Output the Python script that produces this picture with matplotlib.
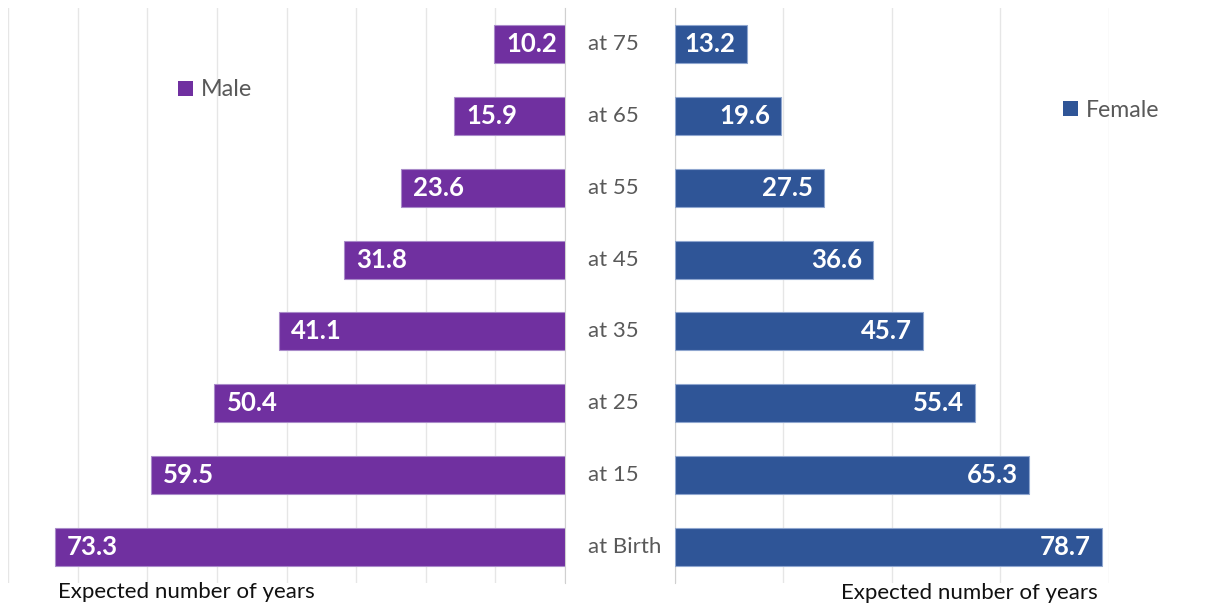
import matplotlib
matplotlib.use("Agg")
import matplotlib.pyplot as plt
from matplotlib.patches import Patch
from matplotlib.transforms import blended_transform_factory

plt.rcParams['font.family'] = ['Lato', 'DejaVu Sans']

categories = ["at Birth", "at 15", "at 25", "at 35", "at 45", "at 55", "at 65", "at 75"]
male = [73.3, 59.5, 50.4, 41.1, 31.8, 23.6, 15.9, 10.2]
female = [78.7, 65.3, 55.4, 45.7, 36.6, 27.5, 19.6, 13.2]
male_ticks = [0, 10, 20, 30, 40, 50, 60, 70, 80]
female_ticks = [0, 20, 40, 60, 80]
axis_label = "Expected number of years"

MALE_C = "#7030A0"
FEMALE_C = "#2F5597"
GRID_C = "#E6E6E6"
TEXT_GRAY = "#595959"

W, H = 1209, 605
fig = plt.figure(figsize=(W / 100, H / 100), dpi=100)

ax_top = 8
ax_bot = 583
axL = fig.add_axes([8 / W, 1 - ax_bot / H, (565 - 8) / W, (ax_bot - ax_top) / H])
axR = fig.add_axes([675 / W, 1 - ax_bot / H, (1108.7 - 675) / W, (ax_bot - ax_top) / H])

y = list(range(len(categories)))
bh = 0.53

axL.barh(y, male, height=bh, color=MALE_C, edgecolor="#A98BC9", linewidth=0.8, zorder=3)
axR.barh(y, female, height=bh, color=FEMALE_C, edgecolor="#8FA6CF", linewidth=0.8, zorder=3)

axL.set_xlim(80, 0)
axR.set_xlim(0, 80)
for ax, ticks in ((axL, male_ticks), (axR, female_ticks)):
    ax.set_ylim(-0.5, len(categories) - 0.5)
    ax.set_xticks(ticks)
    ax.set_yticks([])
    ax.tick_params(axis='x', length=0, labelbottom=False)
    ax.grid(axis='x', color=GRID_C, linewidth=1.0, zorder=0)
    for s in ax.spines.values():
        s.set_visible(False)
    ax.set_facecolor("none")

axL.spines['right'].set_visible(True)
axL.spines['right'].set_color("#D0D0D0")
axR.spines['left'].set_visible(True)
axR.spines['left'].set_color("#D0D0D0")

# value labels
for yi, v in zip(y, male):
    axL.annotate(f"{v:.1f}", xy=(v, yi), xytext=(9, 0), textcoords="offset points",
                 ha="left", va="center", color="white", fontsize=18.5, fontweight="bold", zorder=4)
for yi, v in zip(y, female):
    axR.annotate(f"{v:.1f}", xy=(v, yi), xytext=(-8, 0), textcoords="offset points",
                 ha="right", va="center", color="white", fontsize=18.5, fontweight="bold", zorder=4)

# category labels
tr = blended_transform_factory(fig.transFigure, axR.transData)
for yi, c in zip(y, categories):
    fig.text(588 / W, yi, c, transform=tr, ha="left", va="center", fontsize=16, color=TEXT_GRAY)

# axis titles
fig.text(186 / W, 1 - 592 / H, axis_label, ha="center", va="center", fontsize=16, color="#111111")
fig.text(969 / W, 1 - 593 / H, axis_label, ha="center", va="center", fontsize=16, color="#111111")

# legends
fig.legend(handles=[Patch(facecolor=MALE_C, label="Male")], loc="center left",
           bbox_to_anchor=(178 / W, 1 - 90 / H), frameon=False, fontsize=16.8,
           handlelength=0.65, handleheight=0.65, handletextpad=0.35, borderpad=0, borderaxespad=0,
           labelcolor=TEXT_GRAY)
fig.legend(handles=[Patch(facecolor=FEMALE_C, label="Female")], loc="center left",
           bbox_to_anchor=(1063 / W, 1 - 110 / H), frameon=False, fontsize=16.6,
           handlelength=0.65, handleheight=0.65, handletextpad=0.35, borderpad=0, borderaxespad=0,
           labelcolor=TEXT_GRAY)

fig.savefig("out.png", dpi=100, facecolor="white")
